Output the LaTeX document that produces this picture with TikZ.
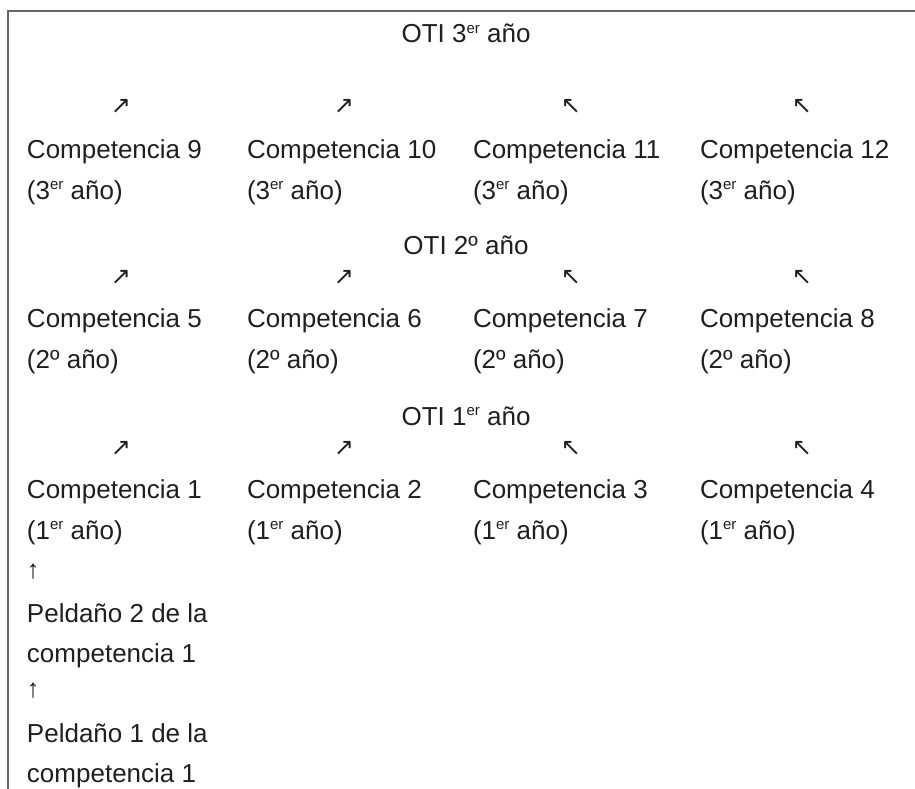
\documentclass[tikz,border=0pt]{standalone}
\usepackage{fontspec}
\setmainfont{Liberation Sans}
\newfontfamily\arrowfont{DejaVu Sans}
\newcommand{\sopr}[1]{\raisebox{0.36em}{\fontsize{15}{15}\selectfont #1}}
\begin{document}
\begin{tikzpicture}[x=1pt,y=-1pt,
  txt/.style={anchor=base west,inner sep=0pt,outer sep=0pt,text=black!88,
    font=\fontsize{26}{31}\selectfont},
  ctr/.style={txt,anchor=base},
  arr/.style={anchor=center,inner sep=0pt,outer sep=0pt,text=black!88,
    font=\arrowfont\fontsize{24}{24}\selectfont},
  uparr/.style={anchor=center,inner sep=0pt,outer sep=0pt,text=black!88,
    font=\fontsize{26}{26}\selectfont},
  frame/.style={draw=black!60,line width=1.5pt}]
\useasboundingbox (0,0) rectangle (915,789);
% frame: top and left rules
\coordinate (tl) at (8,11);
\coordinate (tr) at (915,11);
\coordinate (bl) at (8,789);
\draw[frame] (tr) -- (tl) -- (bl);

% third year
\node[ctr] (oti3) at (466,43) {OTI 3\sopr{er} año};
\node[arr] (a9)  at (121,106) {↗};
\node[arr] (a10) at (344,106) {↗};
\node[arr] (a11) at (571,106) {↖};
\node[arr] (a12) at (802,106) {↖};
\node[txt] (c9)  at (27,158)  {Competencia 9};
\node[txt] (c10) at (247,158) {Competencia 10};
\node[txt] (c11) at (473,158) {Competencia 11};
\node[txt] (c12) at (700,158) {Competencia 12};
\node[txt] (y9)  at (27,199)  {(3\sopr{er} año)};
\node[txt] (y10) at (247,199) {(3\sopr{er} año)};
\node[txt] (y11) at (473,199) {(3\sopr{er} año)};
\node[txt] (y12) at (700,199) {(3\sopr{er} año)};

% second year
\node[ctr] (oti2) at (466,254) {OTI 2º año};
\node[arr] (a5) at (121,277) {↗};
\node[arr] (a6) at (344,277) {↗};
\node[arr] (a7) at (571,277) {↖};
\node[arr] (a8) at (802,277) {↖};
\node[txt] (c5) at (27,327)  {Competencia 5};
\node[txt] (c6) at (247,327) {Competencia 6};
\node[txt] (c7) at (473,327) {Competencia 7};
\node[txt] (c8) at (700,327) {Competencia 8};
\node[txt] (y5) at (27,368)  {(2º año)};
\node[txt] (y6) at (247,368) {(2º año)};
\node[txt] (y7) at (473,368) {(2º año)};
\node[txt] (y8) at (700,368) {(2º año)};

% first year
\node[ctr] (oti1) at (466,425) {OTI 1\sopr{er} año};
\node[arr] (a1) at (121,448) {↗};
\node[arr] (a2) at (344,448) {↗};
\node[arr] (a3) at (571,448) {↖};
\node[arr] (a4) at (802,448) {↖};
\node[txt] (c1) at (27,498)  {Competencia 1};
\node[txt] (c2) at (247,498) {Competencia 2};
\node[txt] (c3) at (473,498) {Competencia 3};
\node[txt] (c4) at (700,498) {Competencia 4};
\node[txt] (y1) at (27,539)  {(1\sopr{er} año)};
\node[txt] (y2) at (247,539) {(1\sopr{er} año)};
\node[txt] (y3) at (473,539) {(1\sopr{er} año)};
\node[txt] (y4) at (700,539) {(1\sopr{er} año)};

% steps of competence 1
\node[uparr] (u2) at (33,572) {↑};
\node[txt] (p2a) at (27,622) {Peldaño 2 de la};
\node[txt] (p2b) at (27,662) {competencia 1};
\node[uparr] (u1) at (33,691) {↑};
\node[txt] (p1a) at (27,742) {Peldaño 1 de la};
\node[txt] (p1b) at (27,782) {competencia 1};
\end{tikzpicture}
\end{document}
